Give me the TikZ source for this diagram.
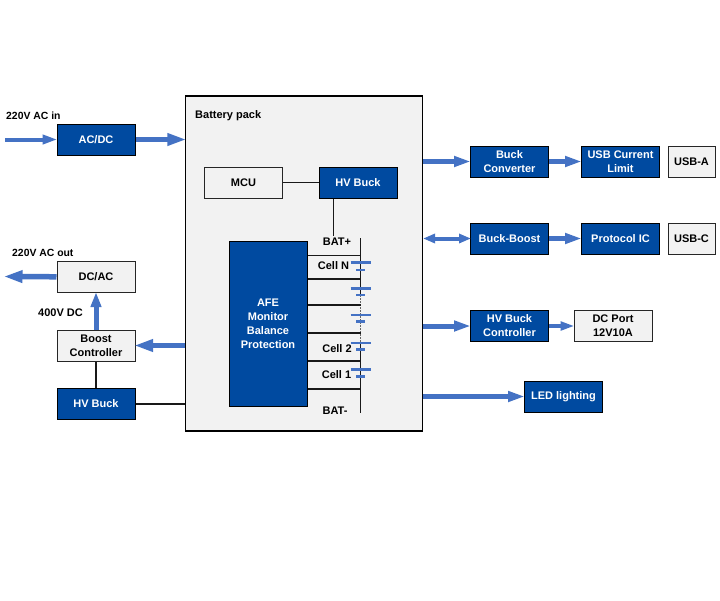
\documentclass[tikz,border=0pt]{standalone}
\usepackage{fontspec}
\setmainfont{Liberation Sans}
\usetikzlibrary{arrows.meta,calc}
\definecolor{navy}{HTML}{004AA0}
\definecolor{arrowblue}{HTML}{4472C4}
\definecolor{panel}{HTML}{F2F2F2}
\tikzset{
  x=1pt,y=-1pt,
  every node/.style={font=\fontsize{11}{14}\selectfont\bfseries,align=center,inner sep=0pt},
  bluebox/.style={draw=black,line width=1pt,fill=navy,text=white,minimum width=78pt,minimum height=31pt},
  greybox/.style={draw=black!85,line width=1pt,fill=panel,text=black,minimum width=78pt,minimum height=31pt},
  caption/.style={anchor=west,text=black},
  shortcaption/.style={anchor=west,text=black,font=\fontsize{10.4}{14}\selectfont\bfseries},
  wire/.style={draw=black!90,line width=1.1pt},
  bigarrow/.style={draw=arrowblue,line width=5.5pt,shorten >=-1.5pt,-{Triangle[length=19pt,width=11.5pt]}},
  uparrow/.style={draw=arrowblue,line width=5pt,shorten >=-1pt,-{Triangle[length=15pt,width=10pt]}},
  stdarrow/.style={draw=arrowblue,line width=5pt,shorten >=-1pt,-{Triangle[length=17pt,width=10pt]}},
  smallarrow/.style={draw=arrowblue,line width=4pt,shorten >=-1pt,-{Triangle[length=15pt,width=9pt]}},
  tinyarrow/.style={draw=arrowblue,line width=4.5pt,shorten >=-1pt,-{Triangle[length=14pt,width=8.5pt]}},
  twoway/.style={draw=arrowblue,line width=4pt,shorten >=-1pt,{Triangle[length=12pt,width=9pt]}-{Triangle[length=12pt,width=9pt]}},
  plate/.style={draw=arrowblue,line width=2.8pt},
}
\begin{document}
\begin{tikzpicture}
\path[use as bounding box,fill=white] (0,0) rectangle (720,600);
% battery pack
\node[draw=black,line width=1.1pt,fill=panel,minimum width=237pt,minimum height=335pt] (pack) at (304,263.5) {};
\node[caption] (packlabel) at (195,116) {Battery pack};
% left column
\node[bluebox] (acdc) at (96,139.5) {AC/DC};
\node[greybox] (dcac) at (96,277) {DC/AC};
\node[greybox] (boost) at (96,345.5) {Boost\\Controller};
\node[bluebox] (hvleft) at (96,404) {HV Buck};
\coordinate (acin) at (5,139.5);
\coordinate (acout) at (5,276.5);
\node[shortcaption] (acinlabel) at (6,116) {220V AC in};
\node[shortcaption] (acoutlabel) at (12,253) {220V AC out};
\node[caption] (dclabel) at (38,312.5) {400V DC};
% inside pack
\node[greybox] (mcu) at (243.5,182.5) {MCU};
\node[bluebox] (hvtop) at (358,182.5) {HV Buck};
\node[bluebox,minimum height=165pt] (afe) at (268,323.5) {AFE\\Monitor\\Balance\\Protection};
% right column
\node[bluebox] (buck) at (509.5,161.5) {Buck\\Converter};
\node[bluebox] (usbcl) at (620.5,161.5) {USB Current\\Limit};
\node[greybox,minimum width=47pt] (usba) at (691.5,161.5) {USB-A};
\node[bluebox] (bb) at (509.5,238.5) {Buck-Boost};
\node[bluebox] (proto) at (620.5,238.5) {Protocol IC};
\node[greybox,minimum width=47pt] (usbc) at (691.5,238.5) {USB-C};
\node[bluebox] (hvctl) at (509.5,326) {HV Buck\\Controller};
\node[greybox] (dcport) at (613,326) {DC Port\\12V10A};
\node[bluebox] (led) at (563.5,396.5) {LED lighting};
% thin connectors
\draw[wire] (mcu) -- (hvtop);
\draw[wire] (boost) -- (hvleft);
\draw[wire] (hvleft) -- (hvleft -| pack.west);
\coordinate (batup) at (333.5,236);
\draw[wire] (hvtop.south -| batup) -- (batup);
% block arrows
\draw[smallarrow] (acin) -- (acdc);
\draw[bigarrow] (acdc) -- (acdc -| pack.west);
\draw[bigarrow] (dcac) -- (acout);
\draw[uparrow] (boost) -- (dcac);
\draw[bigarrow] (boost -| pack.west) -- (boost);
\draw[stdarrow] (buck -| pack.east) -- (buck);
\draw[stdarrow] (buck) -- (usbcl);
\draw[twoway] (bb -| pack.east) -- (bb);
\draw[stdarrow] (bb) -- (proto);
\draw[stdarrow] (hvctl -| pack.east) -- (hvctl);
\draw[tinyarrow] (hvctl) -- (dcport);
\draw[stdarrow] (led -| pack.east) -- (led);
% cell stack
\coordinate (railtop) at (360.7,238);
\coordinate (railbot) at (360.7,413);
\coordinate (dashtop) at (360.7,295);
\coordinate (dashbot) at (360.7,343);
\draw[wire] (railtop) -- (dashtop);
\draw[draw=black!60,line width=1.2pt,dash pattern=on 1.5pt off 1.5pt] (dashtop) -- (dashbot);
\draw[wire] (dashbot) -- (railbot);
\foreach \y in {255.5,279,305,333,361,389}
  \draw[wire] (afe.east |- 0,\y) -- (railtop |- 0,\y);
\foreach \y/\z in {262.5/270,288.5/295,315/321.5,343/349.5,369.5/376.5}{
  \draw[plate] (350.5,\y) -- (370.5,\y);
  \draw[plate] (356,\z) -- (365,\z);
}
\node (batp) at (337,242) {BAT+};
\node (celln) at (333.5,265.5) {Cell N};
\node (cell2) at (337,348.5) {Cell 2};
\node (cell1) at (336.5,375) {Cell 1};
\node (batm) at (335,411) {BAT-};
\end{tikzpicture}
\end{document}
